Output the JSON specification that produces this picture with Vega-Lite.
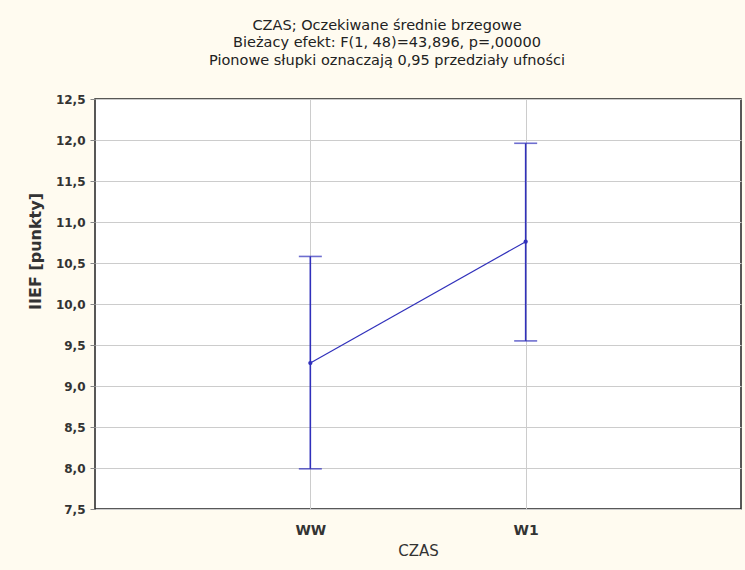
{
  "$schema": "https://vega.github.io/schema/vega-lite/v6.json",
  "autosize": {"type": "none"},
  "padding": {"left": 95, "top": 99, "right": 4, "bottom": 61},
  "width": 646,
  "height": 410,
  "background": "#FFFBF0",
  "title": {
    "text": ["CZAS; Oczekiwane średnie brzegowe", "Bieżacy efekt: F(1, 48)=43,896, p=,00000", "Pionowe słupki oznaczają 0,95 przedziały ufności"],
    "font": "DejaVu Sans",
    "fontSize": 14.5,
    "fontWeight": "normal",
    "color": "#222222",
    "lineHeight": 17.5,
    "anchor": "middle",
    "dx": -31,
    "offset": 25
  },
  "config": {
    "view": {"fill": "white", "stroke": "#222222", "strokeWidth": 1.5},
    "axis": {"labelFont": "DejaVu Sans", "titleFont": "DejaVu Sans", "gridColor": "#cccccc", "gridWidth": 1, "domain": false, "tickColor": "#888888"}
  },
  "data": {
    "values": [
      {"czas": "WW", "mean": 9.28, "lo": 7.99, "hi": 10.58},
      {"czas": "W1", "mean": 10.76, "lo": 9.55, "hi": 11.96}
    ]
  },
  "encoding": {
    "x": {
      "field": "czas", "type": "nominal", "sort": ["WW", "W1"],
      "scale": {"type": "point", "padding": 1},
      "axis": {"title": "CZAS", "labelAngle": 0, "labelFontSize": 14, "labelFontWeight": "bold", "labelColor": "#333333", "labelPadding": 14, "tickSize": 0, "titleFontSize": 15, "titleFontWeight": "normal", "titleColor": "#333333", "titlePadding": 6, "grid": true}
    }
  },
  "layer": [
    {
      "mark": {"type": "rule", "color": "#3030BB", "strokeWidth": 1.6},
      "encoding": {
        "y": {"field": "lo", "type": "quantitative",
          "scale": {"domain": [7.5, 12.5], "nice": false, "zero": false},
          "axis": {"title": "IIEF [punkty]", "values": [7.5, 8, 8.5, 9, 9.5, 10, 10.5, 11, 11.5, 12, 12.5],
            "labelExpr": "replace(format(datum.value, '.1f'), '.', ',')",
            "labelFontSize": 12, "labelFontWeight": "bold", "labelColor": "#333333", "labelPadding": 5, "tickSize": 5,
            "titleFontSize": 16, "titleFontWeight": "bold", "titleColor": "#333333",
            "titleX": -60, "titleY": 152, "titleAngle": -90, "titleAlign": "center", "titleBaseline": "middle", "grid": true}},
        "y2": {"field": "hi"}
      }
    },
    {
      "mark": {"type": "tick", "color": "#3030BB", "thickness": 1.6, "size": 23, "orient": "horizontal"},
      "encoding": {"y": {"field": "lo", "type": "quantitative"}}
    },
    {
      "mark": {"type": "tick", "color": "#3030BB", "thickness": 1.6, "size": 23, "orient": "horizontal"},
      "encoding": {"y": {"field": "hi", "type": "quantitative"}}
    },
    {
      "mark": {"type": "line", "color": "#3030BB", "strokeWidth": 1.2},
      "encoding": {"y": {"field": "mean", "type": "quantitative"}}
    },
    {
      "mark": {"type": "point", "filled": true, "color": "#3030BB", "size": 18, "opacity": 1},
      "encoding": {"y": {"field": "mean", "type": "quantitative"}}
    }
  ]
}
